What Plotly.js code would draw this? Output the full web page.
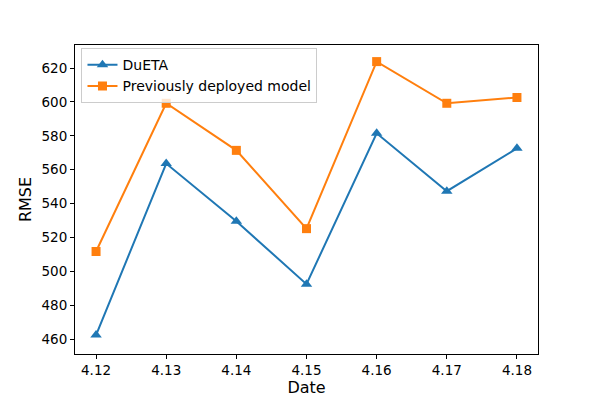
<!DOCTYPE html>
<html>
<head>
<meta charset="utf-8">
<script src="https://cdn.plot.ly/plotly-3.0.1.min.js"></script>
<style>
  body { margin: 0; background: #fff; }
  #graph { width: 598px; height: 399px; }
</style>
</head>
<body>
<div id="graph"></div>
<script>
let dates = ['4.12', '4.13', '4.14', '4.15', '4.16', '4.17', '4.18'];
let dueta = [462.4, 563.6, 529.6, 492.4, 581.5, 547.3, 572.6];
let previous = [511.7, 599.2, 571.4, 525.2, 623.8, 599.2, 602.6];
let yTicks = [460, 480, 500, 520, 540, 560, 580, 600, 620];

let font = "DejaVu Sans, sans-serif";

let trace1 = {
    x: dates,
    y: dueta,
    name: 'DuETA',
    type: 'scatter',
    mode: 'lines+markers',
    line: { color: '#1f77b4', width: 2 },
    marker: { symbol: 'triangle-up', size: 10, color: '#1f77b4' }
};

let trace2 = {
    x: dates,
    y: previous,
    name: 'Previously deployed model',
    type: 'scatter',
    mode: 'lines+markers',
    line: { color: '#ff7f0e', width: 2 },
    marker: { symbol: 'square', size: 9, color: '#ff7f0e' }
};

let axisStyle = {
    showline: true,
    mirror: true,
    linecolor: '#000',
    linewidth: 1,
    ticks: 'outside',
    ticklen: 4,
    tickcolor: '#000',
    showgrid: false,
    zeroline: false,
    tickfont: { family: font, size: 13.5, color: '#000' }
};

let layout = {
    width: 598,
    height: 399,
    paper_bgcolor: '#fff',
    plot_bgcolor: '#fff',
    font: { family: font, color: '#000' },
    margin: { l: 75, r: 60, t: 45, b: 45 },
    showlegend: true,
    legend: {
        x: 0.014,
        y: 0.99,
        xanchor: 'left',
        yanchor: 'top',
        bgcolor: 'rgba(255,255,255,0.8)',
        bordercolor: '#ccc',
        borderwidth: 1,
        font: { family: font, size: 14, color: '#000' },
        tracegroupgap: 0
    },
    xaxis: Object.assign({}, axisStyle, {
        type: 'category',
        range: [-0.3, 6.3],
        title: { text: 'Date', font: { family: font, size: 16 }, standoff: 3 }
    }),
    yaxis: Object.assign({}, axisStyle, {
        range: [451.2, 633.6],
        tickvals: yTicks,
        title: { text: 'RMSE', font: { family: font, size: 16 }, standoff: 5 }
    })
};

Plotly.newPlot('graph', [trace1, trace2], layout, { displayModeBar: false, staticPlot: true });
</script>
</body>
</html>
